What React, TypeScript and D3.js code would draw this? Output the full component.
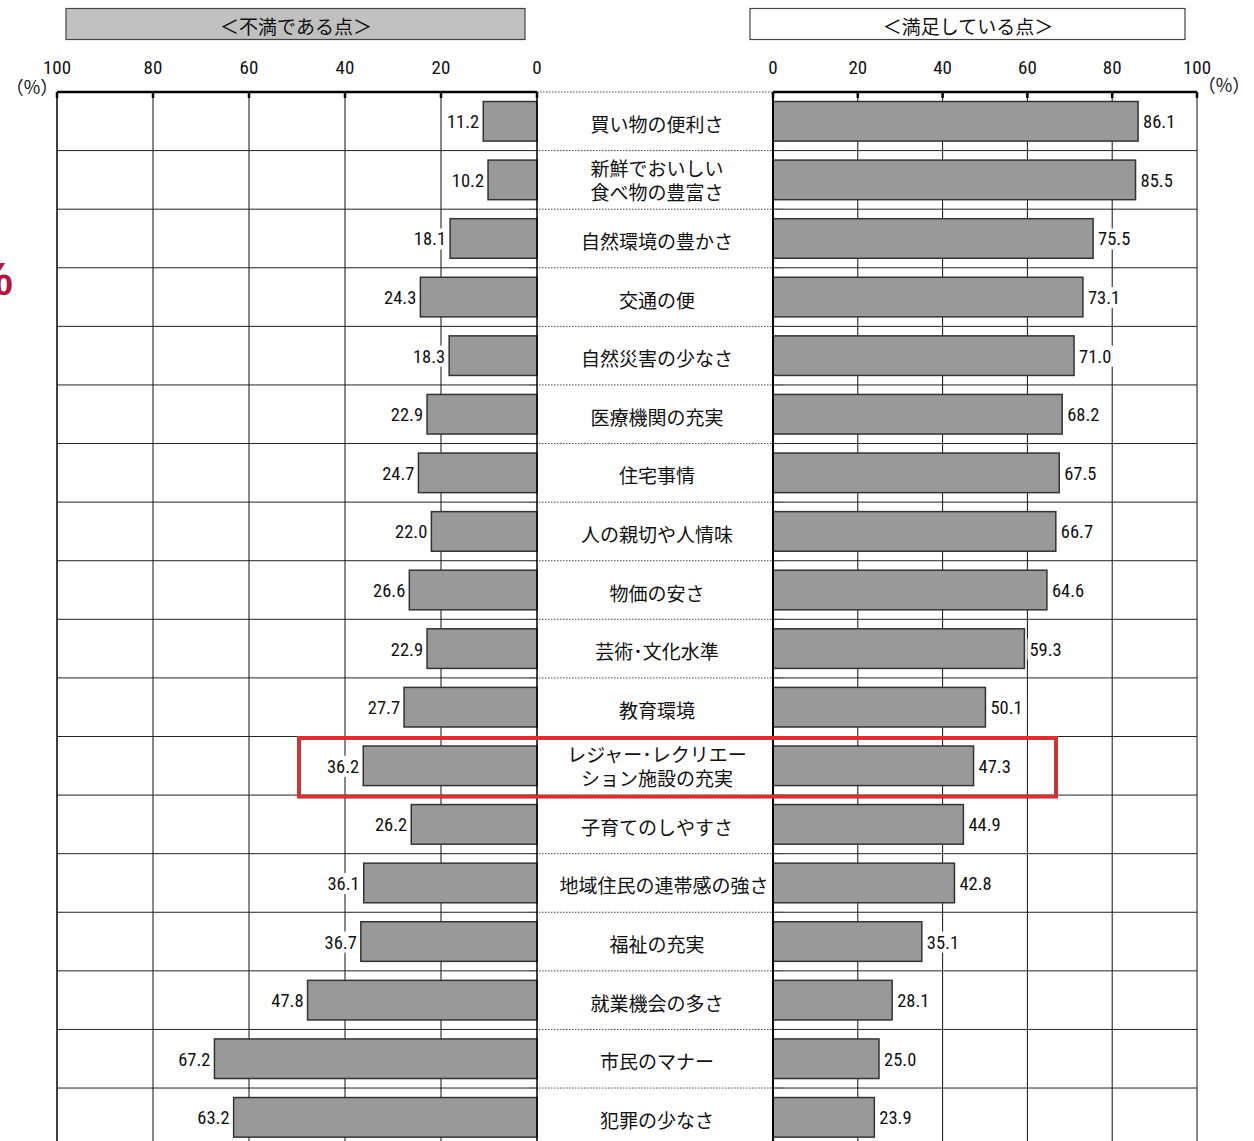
import React from "react";
import * as d3 from "d3";

const categories: string[][] = [
  ["買い物の便利さ"],
  ["新鮮でおいしい", "食べ物の豊富さ"],
  ["自然環境の豊かさ"],
  ["交通の便"],
  ["自然災害の少なさ"],
  ["医療機関の充実"],
  ["住宅事情"],
  ["人の親切や人情味"],
  ["物価の安さ"],
  ["芸術･文化水準"],
  ["教育環境"],
  ["レジャー･レクリエー", "ション施設の充実"],
  ["子育てのしやすさ"],
  ["地域住民の連帯感の強さ"],
  ["福祉の充実"],
  ["就業機会の多さ"],
  ["市民のマナー"],
  ["犯罪の少なさ"],
];
const dissatisfied: number[] = [11.2, 10.2, 18.1, 24.3, 18.3, 22.9, 24.7, 22.0, 26.6, 22.9, 27.7, 36.2, 26.2, 36.1, 36.7, 47.8, 67.2, 63.2];
const satisfied: number[] = [86.1, 85.5, 75.5, 73.1, 71.0, 68.2, 67.5, 66.7, 64.6, 59.3, 50.1, 47.3, 44.9, 42.8, 35.1, 28.1, 25.0, 23.9];
const tickValues: number[] = [0, 20, 40, 60, 80, 100];
const leftTitle = "＜不満である点＞";
const rightTitle = "＜満足している点＞";
const highlightIndex = 11;

const W = 1254;
const H = 1141;
const JP = "'Noto Sans CJK JP', 'Noto Sans', sans-serif";
const NUM = "'Liberation Sans Narrow', 'Roboto Condensed', 'Liberation Sans', Arial, sans-serif";

export default function App() {
  const xL = d3.scaleLinear().domain([100, 0]).range([57, 537]);
  const xR = d3.scaleLinear().domain([0, 100]).range([773, 1197]);
  const idx = categories.map((_, i) => String(i));
  const rowH = 58.59;
  const top = 92;
  const y = d3.scaleBand().domain(idx).range([top, top + rowH * categories.length]).paddingInner(0).paddingOuter(0);
  const barPad = 9.5;
  const barH = rowH - 2 * barPad;
  const rowEdges = d3.range(categories.length + 1).map((i) => top + i * rowH);
  const rowCenter = (i: number) => (y(String(i)) as number) + y.bandwidth() / 2;
  const numW = 34;

  return (
    <svg width={W} height={H} style={{ position: "absolute", left: 0, top: 0, background: "#fff" }}>
      <defs>
        <clipPath id="centerClip">
          <rect x={537} y={0} width={236} height={H} />
        </clipPath>
      </defs>
      <rect x={0} y={0} width={W} height={H} fill="#fff" />

      {/* header boxes */}
      <rect x={66} y={8.5} width={459} height={31} fill="#c0c0c0" stroke="#444" strokeWidth={1.2} />
      <text x={296} y={25} fontFamily={JP} fontSize={19} textAnchor="middle" dominantBaseline="central" fill="#111">{leftTitle}</text>
      <rect x={750} y={8.5} width={435} height={31} fill="#fff" stroke="#444" strokeWidth={1.2} />
      <text x={968} y={25} fontFamily={JP} fontSize={19} textAnchor="middle" dominantBaseline="central" fill="#111">{rightTitle}</text>

      {/* tick labels */}
      {tickValues.map((t) => (
        <text key={"tl" + t} x={xL(t)} y={67} fontFamily={NUM} fontSize={19} textAnchor="middle" dominantBaseline="central" fill="#111">{t}</text>
      ))}
      {tickValues.map((t) => (
        <text key={"tr" + t} x={xR(t)} y={67} fontFamily={NUM} fontSize={19} textAnchor="middle" dominantBaseline="central" fill="#111">{t}</text>
      ))}
      <text x={32} y={86} fontFamily={JP} fontSize={18} textAnchor="middle" dominantBaseline="central" fill="#111">（%）</text>
      <text x={1224} y={84} fontFamily={JP} fontSize={18} textAnchor="middle" dominantBaseline="central" fill="#111">（%）</text>

      {/* red cut glyph at left edge */}
      <text x={13} y={295} fontFamily="'Liberation Sans', sans-serif" fontWeight="bold" fontSize={46} textAnchor="end" fill="#b3173b">%</text>

      {/* vertical gridlines */}
      {tickValues.filter((t) => t !== 0).map((t) => (
        <line key={"gl" + t} x1={xL(t)} x2={xL(t)} y1={top} y2={H} stroke="#111" strokeWidth={t === 100 ? 1.6 : 1} />
      ))}
      {tickValues.filter((t) => t !== 0).map((t) => (
        <line key={"gr" + t} x1={xR(t)} x2={xR(t)} y1={top} y2={H} stroke="#111" strokeWidth={1} />
      ))}

      {/* row lines */}
      {rowEdges.slice(1).map((e, i) => (
        <g key={"re" + i}>
          <line x1={xL(100)} x2={xL(0)} y1={e} y2={e} stroke="#222" strokeWidth={1} />
          <line x1={xR(0)} x2={xR(100)} y1={e} y2={e} stroke="#222" strokeWidth={1} />
        </g>
      ))}
      {rowEdges.map((e, i) => (
        <line key={"dl" + i} x1={i === 0 ? 537 : 530} x2={i === 0 ? 773 : 783} y1={e} y2={e} stroke="#444" strokeWidth={1} strokeDasharray="1.5,1.5" />
      ))}

      {/* bars */}
      {dissatisfied.map((v, i) => (
        <rect key={"bl" + i} x={xL(v)} y={(y(String(i)) as number) + barPad} width={xL(0) - xL(v)} height={barH} fill="#999999" stroke="#333" strokeWidth={1.5} />
      ))}
      {satisfied.map((v, i) => (
        <rect key={"br" + i} x={xR(0)} y={(y(String(i)) as number) + barPad} width={xR(v) - xR(0)} height={barH} fill="#999999" stroke="#333" strokeWidth={1.5} />
      ))}

      {/* value labels with white backing */}
      {dissatisfied.map((v, i) => (
        <g key={"vl" + i}>
          <rect x={xL(v) - 4 - numW - 2} y={rowCenter(i) - 10} width={numW + 4} height={21} fill="#fff" />
          <text x={xL(v) - 4} y={rowCenter(i) + 1} fontFamily={NUM} fontSize={18.5} textAnchor="end" dominantBaseline="central" fill="#111">{v.toFixed(1)}</text>
        </g>
      ))}
      {satisfied.map((v, i) => (
        <g key={"vr" + i}>
          <rect x={xR(v) + 3} y={rowCenter(i) - 10} width={numW + 4} height={21} fill="#fff" />
          <text x={xR(v) + 5} y={rowCenter(i) + 1} fontFamily={NUM} fontSize={18.5} textAnchor="start" dominantBaseline="central" fill="#111">{v.toFixed(1)}</text>
        </g>
      ))}

      {/* category labels */}
      <g clipPath="url(#centerClip)">
        {categories.map((lines, i) => (
          <text key={"c" + i} fontFamily={JP} fontSize={19} textAnchor="middle" fill="#111">
            {lines.map((ln, j) => (
              <tspan key={j} x={i === 13 ? 664 : 657} y={rowCenter(i) + (lines.length > 1 ? -0.5 : 2) + (j - (lines.length - 1) / 2) * 24} dominantBaseline="central">{ln}</tspan>
            ))}
          </text>
        ))}
      </g>

      {/* axis lines */}
      <line x1={xL(100)} x2={xL(0)} y1={top} y2={top} stroke="#000" strokeWidth={2.5} />
      <line x1={xR(0)} x2={xR(100)} y1={top} y2={top} stroke="#000" strokeWidth={2.5} />
      {tickValues.map((t) => (
        <line key={"tkl" + t} x1={xL(t)} x2={xL(t)} y1={top} y2={top + 6} stroke="#000" strokeWidth={2.5} />
      ))}
      {tickValues.map((t) => (
        <line key={"tkr" + t} x1={xR(t)} x2={xR(t)} y1={top} y2={top + 6} stroke="#000" strokeWidth={2.5} />
      ))}
      <line x1={xL(0)} x2={xL(0)} y1={top} y2={H} stroke="#000" strokeWidth={1.5} />
      <line x1={xR(0)} x2={xR(0)} y1={top} y2={H} stroke="#000" strokeWidth={2} />

      {/* highlight box */}
      <rect x={299} y={rowEdges[highlightIndex] + 1.5} width={757} height={rowH} fill="none" stroke="#d03333" strokeWidth={4} />
    </svg>
  );
}
